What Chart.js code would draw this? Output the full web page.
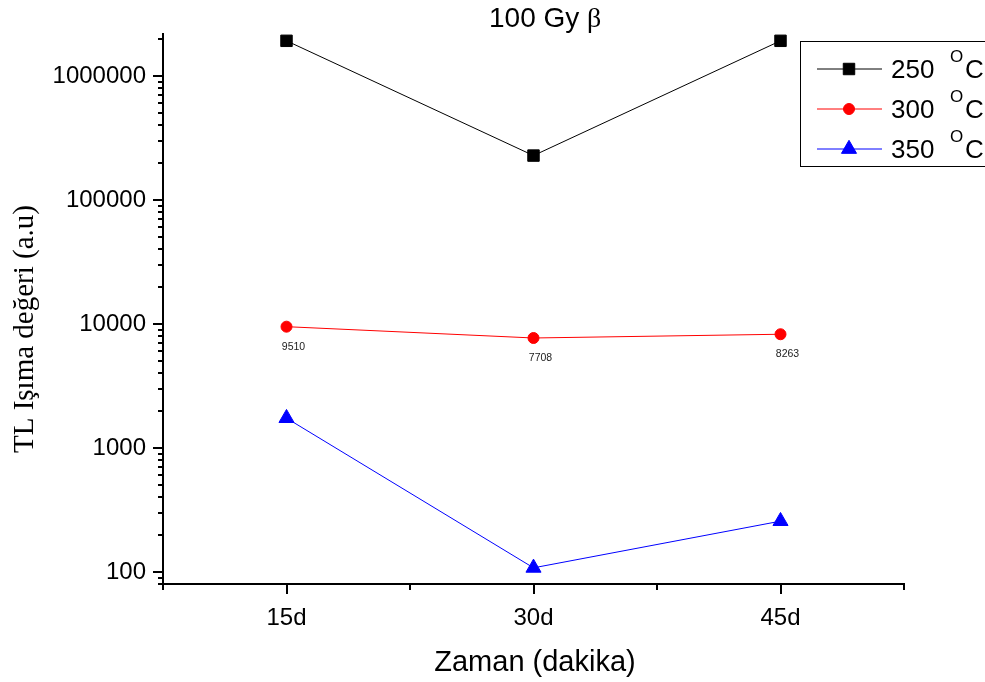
<!DOCTYPE html>
<html>
<head>
<meta charset="utf-8">
<script src="https://cdn.jsdelivr.net/npm/chart.js@4.4.1/dist/chart.umd.min.js"></script>
<style>
  html, body { margin: 0; padding: 0; background: #fff; }
  canvas { display: block; }
</style>
</head>
<body>
<canvas id="tlChart" width="985" height="682"></canvas>
<script>
// data
const times = ["15d", "30d", "45d"];
const seriesNames = ["250", "300", "350"];
const tl250 = [1920000, 228000, 1920000];
const tl300 = [9510, 7708, 8263];
const tl350 = [1740, 108, 257];
const yTickValues = [100, 1000, 10000, 100000, 1000000];
const yMin = 80;
const yMax = 2220000;

const SANS = "'Liberation Sans', Arial, sans-serif";
const SERIF = "'Liberation Serif', 'Times New Roman', serif";
Chart.defaults.font.family = SANS;
Chart.defaults.color = "#000";

function toPoints(values) {
  return values.map((v, i) => ({ x: i + 1, y: v }));
}

function markerOpts(ds) {
  return {
    pointStyle: ds.pointStyle,
    radius: ds.pointRadius,
    rotation: 0,
    borderWidth: 1,
  };
}

// axes, ticks, titles, legend and value labels
const decorations = {
  id: "decorations",
  beforeDatasetsDraw(chart) {
    const ctx = chart.ctx;
    const xs = chart.scales.x;
    const ys = chart.scales.y;
    const { left, right, top, bottom } = chart.chartArea;
    ctx.save();
    ctx.strokeStyle = "#000";
    ctx.lineWidth = 2;
    ctx.beginPath();
    ctx.moveTo(left, top);
    ctx.lineTo(left, bottom + 1);
    ctx.moveTo(left - 1, bottom);
    ctx.lineTo(right + 1, bottom);
    ctx.stroke();

    // y ticks: decades long, 2..9 short
    ctx.beginPath();
    for (let d = 10; d <= 1e6; d *= 10) {
      for (let m = 1; m <= 9; m++) {
        const v = m * d;
        if (v < yMin || v > yMax) continue;
        const py = Math.round(ys.getPixelForValue(v));
        const len = m === 1 ? 10 : 5;
        ctx.moveTo(left - len, py);
        ctx.lineTo(left, py);
      }
    }
    // x ticks: categories long, halves short
    for (let v = 0.5; v <= 3.5; v += 0.5) {
      const px = Math.round(xs.getPixelForValue(v));
      const len = Number.isInteger(v) ? 10 : 6;
      ctx.moveTo(px, bottom);
      ctx.lineTo(px, bottom + len);
    }
    ctx.stroke();
    ctx.restore();
  },
  afterDraw(chart) {
    const ctx = chart.ctx;
    ctx.save();
    ctx.fillStyle = "#000";

    // title
    ctx.textBaseline = "alphabetic";
    ctx.textAlign = "left";
    ctx.font = "28px " + SANS;
    const t1 = "100 Gy ";
    const tx = 489;
    ctx.fillText(t1, tx, 27);
    const w1 = ctx.measureText(t1).width;
    ctx.font = "28px " + SERIF;
    ctx.fillText("β", tx + w1, 27);

    // x title
    ctx.font = "29px " + SANS;
    ctx.textAlign = "center";
    ctx.fillText("Zaman (dakika)", 535, 671);

    // y title
    ctx.save();
    ctx.translate(33, 329);
    ctx.rotate(-Math.PI / 2);
    ctx.font = "29px " + SERIF;
    ctx.fillText("TL Işıma değeri (a.u)", 0, 0);
    ctx.restore();

    // value labels under the 300 °C points
    const meta = chart.getDatasetMeta(1);
    ctx.font = "10.5px " + SANS;
    ctx.fillStyle = "#222";
    ctx.textAlign = "center";
    ctx.textBaseline = "middle";
    meta.data.forEach((pt, i) => {
      ctx.fillText(String(tl300[i]), pt.x + 7, pt.y + 20);
    });

    // legend
    ctx.strokeStyle = "#000";
    ctx.lineWidth = 1;
    ctx.strokeRect(800.5, 41.5, 200, 125);
    chart.data.datasets.forEach((ds, i) => {
      const ly = 69 + i * 40;
      ctx.strokeStyle = ds.borderColor;
      ctx.lineWidth = 1;
      ctx.beginPath();
      ctx.moveTo(817, ly);
      ctx.lineTo(882, ly);
      ctx.stroke();
      ctx.fillStyle = ds.pointBackgroundColor;
      ctx.strokeStyle = ds.pointBorderColor;
      Chart.helpers.drawPoint(ctx, markerOpts(ds), 849, ly);

      ctx.fillStyle = "#000";
      ctx.textAlign = "left";
      ctx.textBaseline = "alphabetic";
      ctx.font = "26px " + SANS;
      ctx.fillText(seriesNames[i], 891, ly + 9);
      ctx.font = "17px " + SANS;
      ctx.fillText("O", 950, ly - 7);
      ctx.font = "26px " + SANS;
      ctx.fillText("C", 965, ly + 9);
    });
    ctx.restore();
  },
};

const datasets = [
  { label: "250 °C", data: toPoints(tl250), color: "#000000", pointStyle: "rect", pointRadius: 8.1 },
  { label: "300 °C", data: toPoints(tl300), color: "#ff0000", pointStyle: "circle", pointRadius: 5.5 },
  { label: "350 °C", data: toPoints(tl350), color: "#0000ff", pointStyle: "triangle", pointRadius: 8.7 },
].map((d) => ({
  label: d.label,
  data: d.data,
  borderColor: d.color,
  backgroundColor: d.color,
  pointBackgroundColor: d.color,
  pointBorderColor: d.color,
  pointBorderWidth: 1,
  pointStyle: d.pointStyle,
  pointRadius: d.pointRadius,
  pointHoverRadius: d.pointRadius,
  borderWidth: 1,
  tension: 0,
  clip: 12,
}));

const ctx = document.getElementById("tlChart").getContext("2d");
new Chart(ctx, {
  type: "line",
  data: { datasets },
  options: {
    responsive: false,
    animation: false,
    devicePixelRatio: 1,
    layout: { padding: { top: 33, right: 81, left: 0, bottom: 0 } },
    plugins: {
      legend: { display: false },
      title: { display: false },
      tooltip: { enabled: false },
    },
    scales: {
      x: {
        type: "linear",
        min: 0.5,
        max: 3.5,
        grid: { display: false, drawTicks: false },
        border: { display: false },
        afterBuildTicks: (scale) => {
          scale.ticks = times.map((_, i) => ({ value: i + 1 }));
        },
        afterFit: (scale) => {
          scale.height = 98;
        },
        ticks: {
          padding: 20,
          autoSkip: false,
          maxRotation: 0,
          font: { size: 24 },
          color: "#000",
          callback: (v) => times[v - 1] || "",
        },
      },
      y: {
        type: "logarithmic",
        min: yMin,
        max: yMax,
        grid: { display: false, drawTicks: false },
        border: { display: false },
        afterBuildTicks: (scale) => {
          scale.ticks = yTickValues.map((v) => ({ value: v }));
        },
        afterFit: (scale) => {
          scale.width = 163;
        },
        ticks: {
          padding: 17,
          autoSkip: false,
          font: { size: 24 },
          color: "#000",
          callback: (v) => String(v),
        },
      },
    },
  },
  plugins: [decorations],
});
</script>
</body>
</html>
